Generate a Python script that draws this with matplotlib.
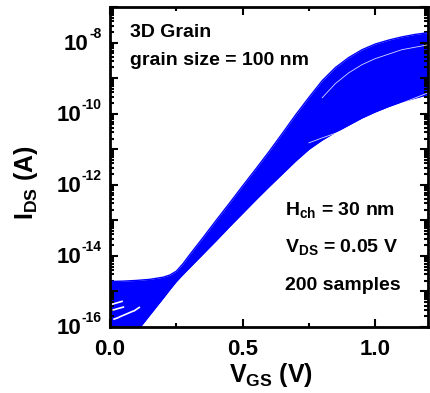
"""IDS-VGS transfer curves, 3D grain, 200 samples (log scale)."""

import matplotlib
matplotlib.use("Agg")
import matplotlib.pyplot as plt
import matplotlib.ticker as mticker
import numpy as np

plt.rcParams["font.family"] = ["Liberation Sans", "DejaVu Sans"]
plt.rcParams["font.weight"] = "bold"
plt.rcParams["mathtext.fontset"] = "custom"
plt.rcParams["mathtext.rm"] = "Liberation Sans:bold"
plt.rcParams["mathtext.bf"] = "Liberation Sans:bold"
plt.rcParams["mathtext.it"] = "Liberation Sans:bold"

BLUE = "#0000ff"

# VGS grid (V) and band envelopes, log10(IDS / A)
vgs = [0.00, 0.05, 0.10, 0.15, 0.20, 0.225, 0.25, 0.275, 0.30, 0.35, 0.40,
       0.45, 0.50, 0.55, 0.60, 0.65, 0.70, 0.75, 0.80, 0.85, 0.90, 0.95,
       1.00, 1.05, 1.10, 1.15, 1.20]
upper_log = [-14.72, -14.71, -14.69, -14.66, -14.60, -14.54, -14.43, -14.22,
             -13.97, -13.49, -13.00, -12.52, -12.03, -11.55, -11.06, -10.55,
             -10.03, -9.54, -9.07, -8.70, -8.42, -8.20, -8.04, -7.93, -7.84,
             -7.77, -7.72]
lower_log = [-17.00, -16.60, -16.13, -15.66, -15.19, -14.95, -14.72, -14.52,
             -14.33, -13.95, -13.57, -13.18, -12.80, -12.42, -12.05, -11.69,
             -11.33, -11.00, -10.74, -10.52, -10.32, -10.12, -9.95, -9.80,
             -9.67, -9.56, -9.46]

# thin gaps between neighbouring curves (white streaks)
gap1_vgs = [0.80, 0.85, 0.90, 0.95, 1.00, 1.10, 1.20]
gap1_log = [-9.55, -9.15, -8.85, -8.62, -8.45, -8.20, -8.06]
gap2_vgs = [0.75, 0.80, 0.85, 0.90, 0.96, 1.05, 1.20]
gap2_log = [-10.82, -10.68, -10.55, -10.40, -10.15, -9.85, -9.41]
gap_low_vgs = [[0.008, 0.045], [0.012, 0.050], [0.035, 0.085], [0.090, 0.110],
               [0.015, 0.030]]
gap_low_log = [[-15.36, -15.28], [-15.52, -15.44], [-15.72, -15.56],
               [-15.55, -15.45], [-15.78, -15.74]]

ytick_exp = [-16, -14, -12, -10, -8]
annot_top = ["3D Grain", "grain size = 100 nm"]
annot_bot = [r"H$_{\mathregular{ch}}$ = 30 nm", r"V$_{\mathregular{DS}}$ = 0.05 V",
             "200 samples"]


def main() -> None:
    fig = plt.figure(figsize=(4.30, 3.93), dpi=100)
    ax = fig.add_axes([0.256, 0.168, 0.740, 0.814])

    x = np.array(vgs)
    up = 10.0 ** np.array(upper_log)
    lo = 10.0 ** np.array(lower_log)
    ax.fill_between(x, lo, up, color=BLUE, lw=0)
    ax.plot(x, up, color=BLUE, lw=1.0)
    ax.plot(x, lo, color=BLUE, lw=1.0)

    for gx, gy in [(gap1_vgs, gap1_log), (gap2_vgs, gap2_log)]:
        ax.plot(gx, 10.0 ** np.array(gy), color="white", lw=0.6, alpha=0.85)
    for gx, gy in zip(gap_low_vgs, gap_low_log):
        ax.plot(gx, 10.0 ** np.array(gy), color="white", lw=1.2)

    ax.set_yscale("log")
    ax.set_xlim(0.0, 1.2)
    ax.set_ylim(1e-16, 1e-7)

    ax.xaxis.set_major_locator(mticker.FixedLocator([0.0, 0.5, 1.0]))
    ax.xaxis.set_minor_locator(mticker.FixedLocator([0.25, 0.75]))
    ax.xaxis.set_major_formatter(mticker.FormatStrFormatter("%.1f"))

    ax.yaxis.set_major_locator(mticker.LogLocator(base=10, numticks=20))
    ax.yaxis.set_minor_locator(mticker.LogLocator(base=10, subs=np.arange(2, 10), numticks=20))
    ax.yaxis.set_major_formatter(mticker.NullFormatter())
    ax.yaxis.set_minor_formatter(mticker.NullFormatter())

    ax.tick_params(which="both", direction="in", top=True, right=True, width=1.5)
    ax.tick_params(which="major", length=6, labelsize=16)
    ax.tick_params(axis="x", which="major", pad=9)
    ax.tick_params(which="minor", length=3)
    for sp in ax.spines.values():
        sp.set_linewidth(2)

    # y tick labels: "10" with a small superscript exponent
    ytr = ax.get_yaxis_transform()
    for e in ytick_exp:
        sup = ax.annotate("-%d" % abs(e), xy=(0, 10.0 ** e), xycoords=ytr,
                          xytext=(-6, 3.5), textcoords="offset points",
                          ha="right", va="baseline", fontsize=10,
                          fontweight="bold", annotation_clip=False)
        ax.annotate("10", xy=(0, 10.0 ** e), xycoords=(sup, ytr),
                    xytext=(-0.5, -1), textcoords="offset points",
                    ha="right", va="center", fontsize=16,
                    fontweight="bold", annotation_clip=False)

    ax.set_xlabel(r"V$_{\mathregular{GS}}$ (V)", fontsize=18, fontweight="bold")
    ax.set_ylabel(r"I$_{\mathregular{DS}}$ (A)", fontsize=18, fontweight="bold")
    ax.xaxis.set_label_coords(0.506, -0.105)
    ax.yaxis.set_label_coords(-0.22, 0.45)

    ax.text(0.063, 0.919, annot_top[0], transform=ax.transAxes, fontsize=14,
            fontweight="bold", va="center")
    ax.text(0.063, 0.834, annot_top[1], transform=ax.transAxes, fontsize=14,
            fontweight="bold", va="center")
    for k, s in enumerate(annot_bot):
        ax.text(0.55, 0.366 - k * 0.1175, s, transform=ax.transAxes, fontsize=14,
                fontweight="bold", va="center")

    fig.savefig("out.png", dpi=100)
    plt.close(fig)


if __name__ == "__main__":
    main()
